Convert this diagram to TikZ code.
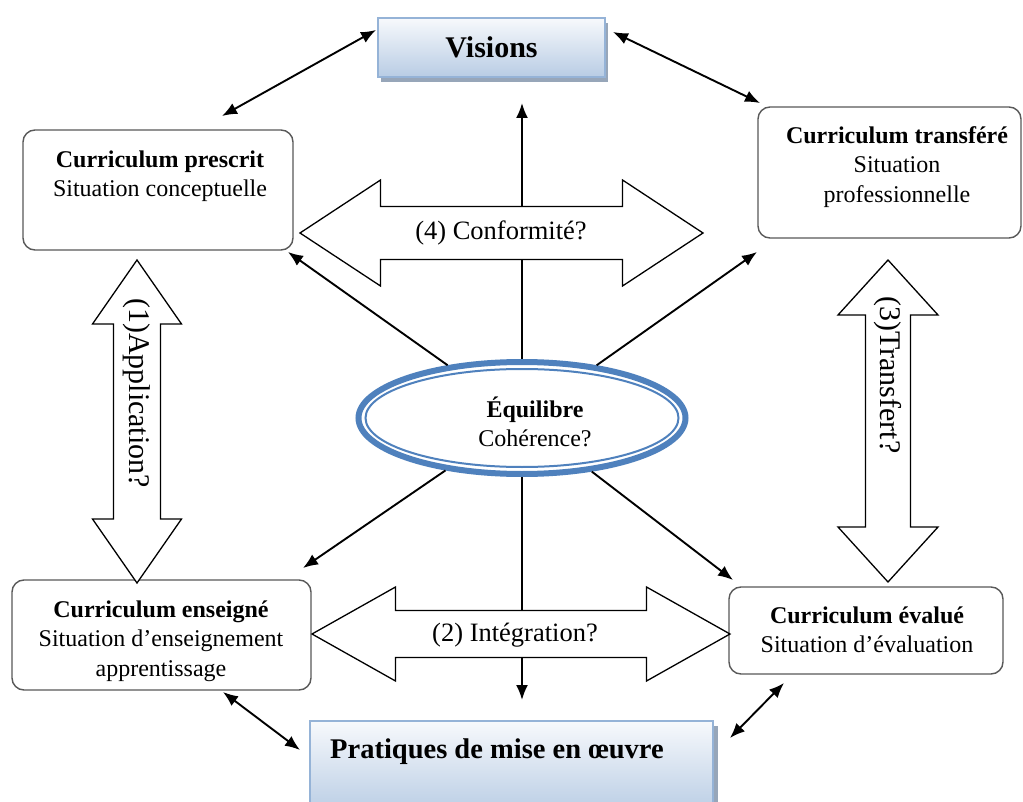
\documentclass[tikz,border=0pt]{standalone}
\usepackage{fontspec}
\setmainfont{Liberation Serif}
\usetikzlibrary{shapes.geometric,arrows.meta,calc,shadows}

\definecolor{boxline}{HTML}{595959}
\definecolor{ovalblue}{HTML}{4F81BD}
\definecolor{bandtop}{HTML}{F7F9FC}
\definecolor{bandbot}{HTML}{B8CCE4}
\definecolor{bandline}{HTML}{95B3D7}
\definecolor{bandshadow}{HTML}{97A6B9}

% horizontal double block arrow: left x, right x, centre y, half head, half shaft, head length
\newcommand\hblock[6]{%
  \draw[blockarrow] (#1,#3) -- (#1+#6,#3-#4) -- (#1+#6,#3-#5) -- (#2-#6,#3-#5)
    -- (#2-#6,#3-#4) -- (#2,#3) -- (#2-#6,#3+#4) -- (#2-#6,#3+#5)
    -- (#1+#6,#3+#5) -- (#1+#6,#3+#4) -- cycle;}
% vertical double block arrow: centre x, top y, bottom y, half head, half shaft, head length
\newcommand\vblock[6]{%
  \draw[blockarrow] (#1,#2) -- (#1+#4,#2+#6) -- (#1+#5,#2+#6) -- (#1+#5,#3-#6)
    -- (#1+#4,#3-#6) -- (#1,#3) -- (#1-#4,#3-#6) -- (#1-#5,#3-#6)
    -- (#1-#5,#2+#6) -- (#1-#4,#2+#6) -- cycle;}

\begin{document}
\begin{tikzpicture}[x=1pt,y=-1pt,
  curbox/.style={draw=boxline, line width=1.4pt, rounded corners=12pt, fill=white, inner sep=0pt},
  curtext/.style={align=center, inner sep=0pt, font=\fontsize{24}{29.5}\selectfont},
  band/.style={draw=bandline, line width=1.6pt, top color=bandtop, bottom color=bandbot, inner sep=0pt},
  blockarrow/.style={draw=black, line width=1.3pt, fill=white, line join=miter},
  arrowtext/.style={inner sep=0pt, font=\fontsize{26.5}{30}\selectfont},
  vtext/.style={inner sep=0pt, rotate=-90, font=\fontsize{30}{34}\selectfont},
  tip/.tip={Latex[length=15pt,width=12pt]},
  conn/.style={line width=1.9pt, -tip},
  dconn/.style={line width=1.9pt, tip-tip}]

\useasboundingbox (0,0) rectangle (1023,802);
\fill[white] (0,0) rectangle (1023,802);

% top and bottom bands
\node[band, minimum width=227pt, minimum height=59pt,
  drop shadow={shadow xshift=3pt, shadow yshift=-5pt, fill=bandshadow, opacity=1}]
  (vis) at (491.5,47.5) {\fontsize{30}{34}\selectfont\bfseries Visions};
\node[band, minimum width=403pt, minimum height=94pt,
  drop shadow={shadow xshift=5pt, shadow yshift=-5pt, fill=bandshadow, opacity=1}]
  (prat) at (511.5,768) {};
\node[anchor=west, inner sep=0pt, font=\fontsize{28.5}{32}\selectfont\bfseries]
  (prat-t) at (330,752) {Pratiques de mise en œuvre};

% curriculum boxes
\node[curbox, minimum width=270pt, minimum height=120pt] (pres) at (158,190) {};
\node[curtext] (pres-t) at (160,176) {\textbf{Curriculum prescrit}\\Situation conceptuelle};

\node[curbox, minimum width=263pt, minimum height=131pt] (trans) at (889.5,172.5) {};
\node[curtext] (trans-t) at (897,167) {\textbf{Curriculum transféré}\\Situation\\professionnelle};

\node[curbox, minimum width=299pt, minimum height=110pt] (ens) at (161.5,635) {};
\node[curtext] (ens-t) at (161,641) {\textbf{Curriculum enseigné}\\Situation d’enseignement\\apprentissage};

\node[curbox, minimum width=274pt, minimum height=87pt] (eval) at (866,630.5) {};
\node[curtext] (eval-t) at (867,630) {\textbf{Curriculum évalué}\\Situation d’évaluation};

% central oval
\node[ellipse, draw=ovalblue, line width=6pt, fill=white, inner sep=0pt,
  minimum width=327pt, minimum height=112pt] (eq) at (522,418) {};
\draw[ovalblue, line width=2pt] (eq.center) ellipse [x radius=156.5, y radius=49];
\node[curtext] (eq-t) at (535,422) {\textbf{Équilibre}\\Cohérence?};

% end points of the connectors
\coordinate (up)   at (522,103);
\coordinate (down) at (522,700);
\coordinate (dpres)  at (288,252);
\coordinate (dtrans) at (757,252);
\coordinate (dens)   at (303,568);
\coordinate (deval)  at (733,580);
\coordinate (visL) at (376,30);   \coordinate (presT) at (222,116);
\coordinate (visR) at (613,32);   \coordinate (transT) at (760,103);
\coordinate (ensB) at (223,692);  \coordinate (pratL) at (300,750);
\coordinate (evalB) at (784,683); \coordinate (pratR) at (730,738);

% connectors from the oval
\draw[conn] (eq) -- (up);
\draw[conn] (eq) -- (down);
\draw[conn] (eq) -- (dpres);
\draw[conn] (eq) -- (dtrans);
\draw[conn] (eq) -- (dens);
\draw[conn] (eq) -- (deval);

% two-way links between the boxes and the bands
\draw[dconn] (visL) -- (presT);
\draw[dconn] (visR) -- (transT);
\draw[dconn] (ensB) -- (pratL);
\draw[dconn] (evalB) -- (pratR);

% block arrows with their questions
\hblock{300}{703}{233}{53}{26.5}{80.5}
\node[arrowtext] (conf) at (501,233) {(4) Conformité?};

\hblock{312}{730}{634}{47}{23.5}{83.5}
\node[arrowtext] (integ) at (515,635) {(2) Intégration?};

\vblock{137}{260}{583}{44.5}{23.5}{64}
\node[vtext] (appl) at (137,393) {(1)Application?};

\vblock{888}{260}{582}{50}{22.5}{55}
\node[vtext] (transf) at (888,375) {(3)Transfert?};

\end{tikzpicture}
\end{document}
